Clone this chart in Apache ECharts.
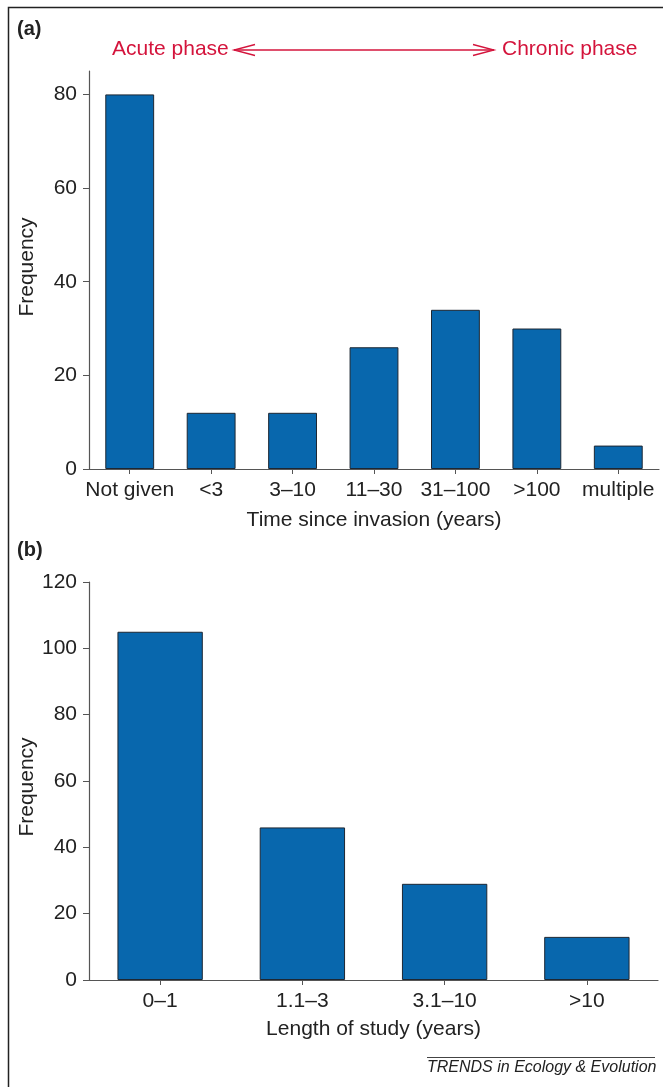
<!DOCTYPE html>
<html>
<head>
<meta charset="utf-8">
<script src="https://cdn.jsdelivr.net/npm/echarts@6/dist/echarts.min.js"></script>
<style>
html,body{margin:0;padding:0;background:#fff;}
#chart{width:663px;height:1087px;}
</style>
</head>
<body>
<div id="chart"></div>
<script>
// Panel (a): time since invasion
const categoriesA = ['Not given', '<3', '3\u201310', '11\u201330', '31\u2013100', '>100', 'multiple'];
const valuesA = [80, 12, 12, 26, 34, 30, 5];
const ticksA = [0, 20, 40, 60, 80];

// Panel (b): length of study
const categoriesB = ['0\u20131', '1.1\u20133', '3.1\u201310', '>10'];
const valuesB = [105, 46, 29, 13];
const ticksB = [0, 20, 40, 60, 80, 100, 120];

const FONT = '"Liberation Sans", Arial, Helvetica, sans-serif';
const TXT = '#222';
const AXIS = '#555';
const RED = '#d4143c';
const BAR = '#0867ad';

const chart = echarts.init(document.getElementById('chart'), null, {renderer: 'canvas'});

function xAxisCfg(cats, name, gridIndex, gap) {
  return {
    type: 'category', gridIndex: gridIndex, data: cats,
    name: name, nameLocation: 'middle', nameGap: gap,
    nameTextStyle: {fontFamily: FONT, fontSize: 21, color: TXT},
    axisLine: {lineStyle: {color: AXIS, width: 1.2}},
    axisTick: {show: true, alignWithLabel: true, length: 5, lineStyle: {color: AXIS}},
    axisLabel: {fontFamily: FONT, fontSize: 21, color: TXT, margin: 11, interval: 0},
    splitLine: {show: false}
  };
}
function yAxisCfg(max, ticks, gridIndex) {
  return {
    type: 'value', gridIndex: gridIndex, min: 0, max: max, interval: 20,
    axisLine: {show: true, lineStyle: {color: AXIS, width: 1.2}},
    axisTick: {show: true, length: 6, lineStyle: {color: AXIS}, customValues: ticks},
    axisLabel: {fontFamily: FONT, fontSize: 21, color: TXT, margin: 12, customValues: ticks},
    splitLine: {show: false}
  };
}

const option = {
  backgroundColor: '#fff',
  animation: false,
  grid: [
    {left: 89, right: 4, top: 71, height: 398, containLabel: false},
    {left: 89, right: 5, top: 582, height: 398, containLabel: false}
  ],
  xAxis: [
    xAxisCfg(categoriesA, 'Time since invasion (years)', 0, 41),
    xAxisCfg(categoriesB, 'Length of study (years)', 1, 39)
  ],
  yAxis: [
    yAxisCfg(85, ticksA, 0),
    yAxisCfg(120, ticksB, 1)
  ],
  series: [
    {type: 'bar', xAxisIndex: 0, yAxisIndex: 0, data: valuesA, barCategoryGap: '40%',
     itemStyle: {color: BAR, borderColor: '#1d2733', borderWidth: 1}},
    {type: 'bar', xAxisIndex: 1, yAxisIndex: 1, data: valuesB, barCategoryGap: '40%',
     itemStyle: {color: BAR, borderColor: '#1d2733', borderWidth: 1}}
  ],
  graphic: [
    // frame
    {type: 'polyline', shape: {points: [[8.5, 1087], [8.5, 7.5], [663, 7.5]]},
     style: {stroke: '#222', lineWidth: 1.5, fill: null}},
    {type: 'text', left: 17, top: 19, style: {text: '(a)', font: 'bold 20px ' + FONT, fill: '#222'}},
    {type: 'text', left: 17, top: 540, style: {text: '(b)', font: 'bold 20px ' + FONT, fill: '#222'}},
    {type: 'text', x: 27, y: 267, rotation: Math.PI / 2,
     style: {text: 'Frequency', font: '21px ' + FONT, fill: TXT, align: 'center', verticalAlign: 'middle'}},
    {type: 'text', x: 27, y: 787, rotation: Math.PI / 2,
     style: {text: 'Frequency', font: '21px ' + FONT, fill: TXT, align: 'center', verticalAlign: 'middle'}},
    {type: 'text', left: 112, top: 39, style: {text: 'Acute phase', font: '21px ' + FONT, fill: RED}},
    {type: 'text', left: 502, top: 39, style: {text: 'Chronic phase', font: '21px ' + FONT, fill: RED}},
    {type: 'line', shape: {x1: 234, y1: 50, x2: 494, y2: 50}, style: {stroke: RED, lineWidth: 1.3}},
    {type: 'polyline', shape: {points: [[255, 44.5], [234, 50], [255, 55.5]]},
     style: {stroke: RED, lineWidth: 1.3, fill: null}},
    {type: 'polyline', shape: {points: [[473, 44.5], [494, 50], [473, 55.5]]},
     style: {stroke: RED, lineWidth: 1.3, fill: null}},
    {type: 'line', shape: {x1: 427, y1: 1057.5, x2: 655, y2: 1057.5}, style: {stroke: '#444', lineWidth: 1}},
    {type: 'text', left: 427, top: 1060, style: {text: 'TRENDS in Ecology & Evolution', font: 'italic 16px ' + FONT, fill: '#222'}}
  ]
};
chart.setOption(option);
</script>
</body>
</html>
